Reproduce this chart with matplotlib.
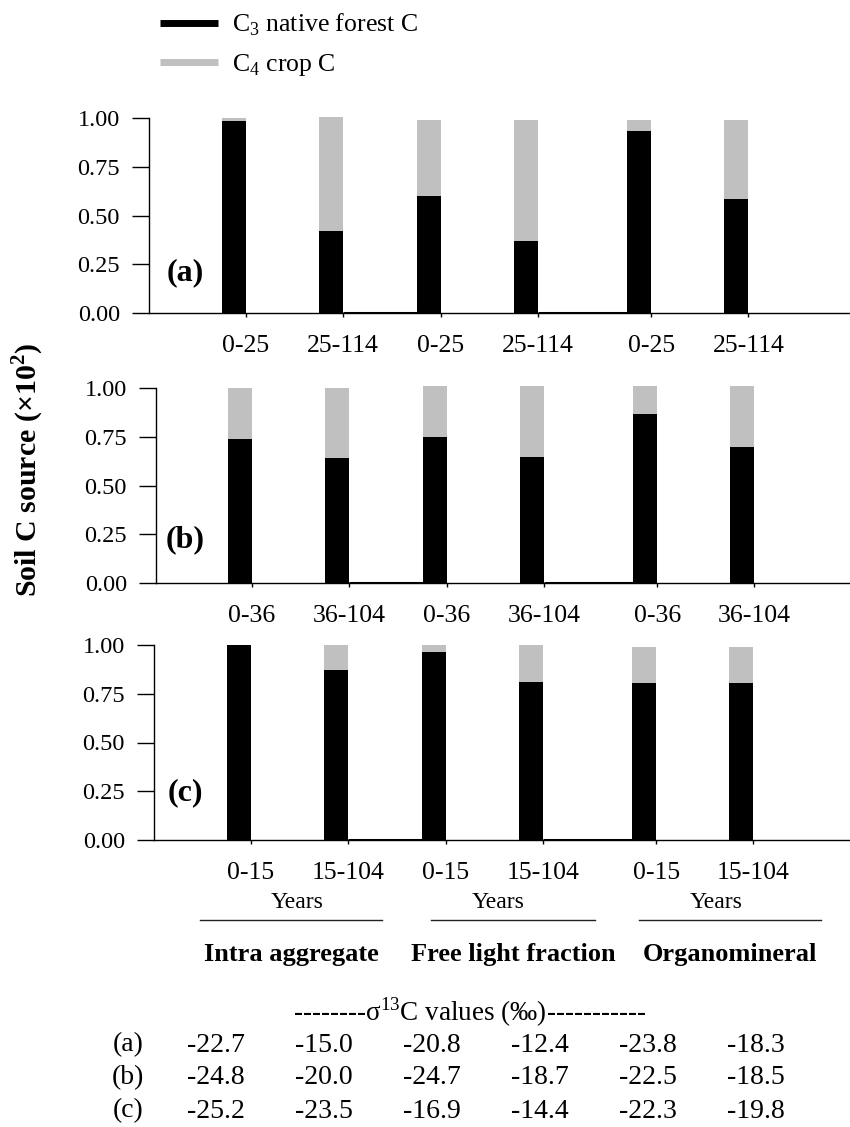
import numpy as np
import matplotlib.pyplot as plt
from matplotlib.lines import Line2D

plt.rcParams['font.family'] = ['Liberation Serif', 'DejaVu Serif']
plt.rcParams['mathtext.fontset'] = 'custom'
plt.rcParams['mathtext.rm'] = 'Liberation Serif'
plt.rcParams['mathtext.bf'] = 'Liberation Serif:bold'

# data
fractions = ['Intra aggregate', 'Free light fraction', 'Organomineral']
depth_a = ['0-25', '25-114'] * 3
depth_b = ['0-36', '36-104'] * 3
depth_c = ['0-15', '15-104'] * 3

c3_a = [0.985, 0.42, 0.60, 0.37, 0.935, 0.585]
c4_a = [0.015, 0.585, 0.39, 0.62, 0.055, 0.405]
c3_b = [0.74, 0.64, 0.75, 0.645, 0.865, 0.70]
c4_b = [0.26, 0.36, 0.26, 0.365, 0.145, 0.31]
c3_c = [1.00, 0.87, 0.965, 0.81, 0.805, 0.805]
c4_c = [0.0, 0.13, 0.035, 0.19, 0.185, 0.185]

sigma_a = [-22.7, -15.0, -20.8, -12.4, -23.8, -18.3]
sigma_b = [-24.8, -20.0, -24.7, -18.7, -22.5, -18.5]
sigma_c = [-25.2, -23.5, -16.9, -14.4, -22.3, -19.8]

W, H = 850, 1127
fig = plt.figure(figsize=(W / 100, H / 100), dpi=100)


def fx(x):
    return x / W


def fy(y):
    return 1 - y / H


gray = '#c0c0c0'
group_offset = [0, 0.01, 0.18]
xpos = np.arange(6) + np.repeat(group_offset, 2)
bar_w = 0.25
ppu = 97.0  # pixels per x unit

# tag, c3, c4, labels, y of zero line, spine x, first tick x, tag height
panels = [('(a)', c3_a, c4_a, depth_a, 313, 149, 246, 0.205),
          ('(b)', c3_b, c4_b, depth_b, 583, 156, 252, 0.22),
          ('(c)', c3_c, c4_c, depth_c, 840, 154, 251, 0.24)]

for tag, c3, c4, depths, base, spine_x, tick0, tag_y in panels:
    ax = fig.add_axes([fx(spine_x), fy(base), (W - spine_x) / W, 1.03 * 195 / H])
    ax.bar(xpos, c3, width=-bar_w, align='edge', color='black')
    ax.bar(xpos, c4, bottom=c3, width=-bar_w, align='edge', color=gray)
    # empty slots between the groups
    for i in (1, 3):
        ax.hlines(0, xpos[i], xpos[i + 1] - bar_w, color='black', lw=2.2)
    ax.set_xlim(-(tick0 - spine_x) / ppu, (W - tick0) / ppu)
    ax.set_ylim(0, 1.03)
    for s in ('top', 'right'):
        ax.spines[s].set_visible(False)
    ax.spines['left'].set_bounds(0, 1)
    ax.spines['left'].set_linewidth(1)
    ax.spines['bottom'].set_linewidth(1)
    ax.set_yticks([0, 0.25, 0.5, 0.75, 1.0])
    ax.set_yticklabels(['0.00', '0.25', '0.50', '0.75', '1.00'])
    ax.set_xticks(xpos)
    ax.set_xticklabels(depths)
    ax.tick_params(axis='y', length=12, width=1, pad=9, labelsize=17.5)
    ax.tick_params(axis='x', length=3, width=1, pad=13, labelsize=18.5)
    ax.text(-(tick0 - 185) / ppu, tag_y, tag, fontsize=23, fontweight='bold',
            ha='center', va='center')

# group captions under the last panel
years_x = [297, 498, 716]
cap_x = [291, 513, 730]
line_half = [91, 82, 91]
for g in range(3):
    fig.text(fx(years_x[g]), fy(903), 'Years', fontsize=17, ha='center', va='center')
    fig.add_artist(Line2D([fx(cap_x[g] - line_half[g]), fx(cap_x[g] + line_half[g])],
                          [fy(920), fy(920)], color='#222222', lw=1))
    fig.text(fx(cap_x[g]), fy(955), fractions[g], fontsize=19, fontweight='bold',
             ha='center', va='center')

# sigma 13C table
fig.text(fx(470), fy(1012), '--------σ$^{13}$C values (‰)-----------', fontsize=19.5,
         ha='center', va='center')
rows = [('(a)', sigma_a), ('(b)', sigma_b), ('(c)', sigma_c)]
for r, (lab, vals) in enumerate(rows):
    yy = fy(1045 + 33 * r)
    fig.text(fx(128), yy, lab, fontsize=20, ha='center', va='center')
    for j, v in enumerate(vals):
        fig.text(fx(216 + 108 * j), yy, f'{v:.1f}', fontsize=20, ha='center', va='center')

# y label
fig.text(fx(28), fy(470), r'Soil C source (×10$^{\mathbf{2}}$)', rotation=90,
         fontsize=21.5, fontweight='bold', ha='center', va='center')

handles = [Line2D([], [], color='black', lw=5, solid_capstyle='butt'),
           Line2D([], [], color=gray, lw=5, solid_capstyle='butt')]
fig.legend(handles, [r'C$_3$ native forest C', r'C$_4$ crop C'], loc='upper left',
           bbox_to_anchor=(fx(160), fy(12)), frameon=False, borderpad=0, borderaxespad=0,
           handlelength=2.26, handletextpad=0.55, labelspacing=0.53, fontsize=18.5)

fig.savefig('out.png', dpi=100)
